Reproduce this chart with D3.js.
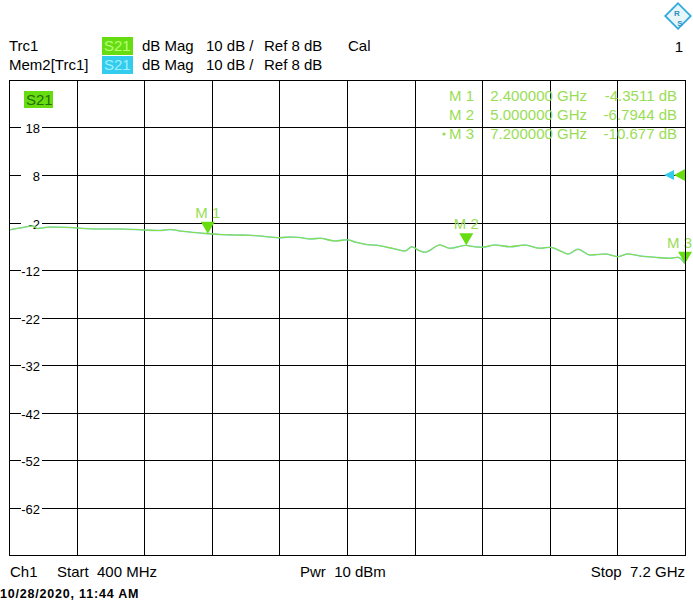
<!DOCTYPE html>
<html><head><meta charset="utf-8">
<script src="https://cdn.jsdelivr.net/npm/d3@7"></script>
<style>
html,body{margin:0;padding:0;background:#fff;}
svg{display:block;font-family:"Liberation Sans",Arial,sans-serif;}
svg text{white-space:pre;}
</style></head>
<body>
<svg id="chart" width="693" height="611"></svg>
<script>
// ---- data ----
const freqGHz = [0.400,0.511,0.641,0.682,0.812,1.014,1.084,1.315,1.517,1.758,1.919,2.020,2.120,2.271,2.400,2.522,2.673,2.824,2.975,3.116,3.227,3.327,3.428,3.528,3.679,3.800,3.880,3.981,4.132,4.283,4.383,4.454,4.514,4.585,4.735,4.836,5.000,5.037,5.158,5.289,5.440,5.591,5.742,5.842,5.963,6.023,6.124,6.244,6.395,6.526,6.626,6.747,6.898,7.049,7.129,7.200];
const s21dB = [-3.58,-3.16,-2.74,-3.26,-2.95,-3.05,-3.16,-3.37,-3.37,-3.58,-3.68,-3.47,-3.79,-4.11,-4.35,-4.53,-4.63,-4.69,-4.95,-5.20,-5.05,-5.16,-5.47,-5.33,-5.89,-5.62,-6.11,-6.59,-6.88,-7.58,-8.00,-7.09,-7.79,-8.27,-6.74,-7.43,-6.79,-6.95,-7.22,-6.74,-7.09,-6.74,-7.43,-7.22,-8.15,-8.63,-7.64,-8.84,-8.63,-9.20,-8.63,-9.05,-9.33,-9.54,-9.33,-10.68];
const memdB = s21dB.slice(); // memory trace overlaps the live trace
const yTickLabels = [18, 8, -2, -12, -22, -32, -42, -52, -62];
const markerNames = ["M 1", "M 2", "M 3"];
const markerFreqGHz = [2.4, 5.0, 7.2];
const markerValdB = [-4.3511, -6.7944, -10.677];
const markerFreqText = ["2.400000 GHz", "5.000000 GHz", "7.200000 GHz"];
const markerValText = ["-4.3511 dB", "-6.7944 dB", "-10.677 dB"];
const refLevel = 8;

// ---- layout ----
const svg = d3.select("#chart");
const L = 9, R = 685, T = 80, B = 555;
const x = d3.scaleLinear().domain([0.4, 7.2]).range([L, R]);
const y = d3.scaleLinear().domain([-72, 28]).range([B, T]);

const GREEN = "#66dd11", GREEN_TXT = "#99dd55", TRACE = "#8fdc3f", CYAN = "#33ccee";
const FS = 15;

// header
const hdr = svg.append("g").attr("font-size", FS).attr("fill", "#000");
hdr.append("text").attr("x", 9).attr("y", 51).text("Trc1");
hdr.append("text").attr("x", 9).attr("y", 70).text("Mem2[Trc1]");
hdr.append("rect").attr("x", 102).attr("y", 37).attr("width", 31).attr("height", 18).attr("fill", GREEN);
hdr.append("text").attr("x", 104).attr("y", 51).attr("fill", "#b8ff77").text("S21");
hdr.append("rect").attr("x", 102).attr("y", 56).attr("width", 31).attr("height", 18).attr("fill", CYAN);
hdr.append("text").attr("x", 104).attr("y", 70).attr("fill", "#9ff0ff").text("S21");
[[51, true], [70, false]].forEach(([yy, cal]) => {
  hdr.append("text").attr("x", 142).attr("y", yy).text("dB Mag");
  hdr.append("text").attr("x", 206).attr("y", yy).text("10 dB /");
  hdr.append("text").attr("x", 264).attr("y", yy).text("Ref 8 dB");
  if (cal) hdr.append("text").attr("x", 348).attr("y", yy).text("Cal");
});
hdr.append("text").attr("x", 683).attr("y", 52).attr("text-anchor", "end").text("1");

// logo
const logo = svg.append("g").attr("transform", "translate(678,16)");
logo.append("rect").attr("x", -9).attr("y", -9).attr("width", 18).attr("height", 18)
  .attr("transform", "rotate(45)").attr("fill", "#e6f6fb").attr("stroke", "#33aadd").attr("stroke-width", 1.8);
logo.append("text").attr("x", -1).attr("y", 0).attr("font-size", 8).attr("font-weight", "bold")
  .attr("fill", "#2a8fc0").attr("text-anchor", "middle").text("R");
logo.append("text").attr("x", 2).attr("y", 10).attr("font-size", 8).attr("font-weight", "bold")
  .attr("fill", "#2a8fc0").attr("text-anchor", "middle").text("S");

// grid
const grid = svg.append("g").attr("stroke", "#000").attr("stroke-width", 1).attr("shape-rendering", "crispEdges");
const xTicks = d3.range(11).map(i => 0.4 + i * 0.68);
const yTicks = d3.range(11).map(i => -72 + i * 10);
grid.selectAll("line.v").data(xTicks).join("line")
  .attr("x1", d => Math.round(x(d)) + 0.5).attr("x2", d => Math.round(x(d)) + 0.5)
  .attr("y1", T).attr("y2", B);
grid.selectAll("line.h").data(yTicks).join("line")
  .attr("y1", d => Math.round(y(d)) + 0.5).attr("y2", d => Math.round(y(d)) + 0.5)
  .attr("x1", L).attr("x2", R);

// y labels with white background
const yl = svg.append("g").attr("font-size", 13);
yTickLabels.forEach(v => {
  const yy = Math.round(y(v)) + 0.5;
  yl.append("rect").attr("x", 21).attr("y", yy - 7).attr("width", 21).attr("height", 13).attr("fill", "#fff");
  yl.append("text").attr("x", 40).attr("y", yy + 5).attr("text-anchor", "end").text(v);
});

// S21 label in plot
svg.append("rect").attr("x", 24).attr("y", 91).attr("width", 29).attr("height", 17).attr("fill", GREEN);
svg.append("text").attr("x", 26).attr("y", 105).attr("font-size", FS).attr("fill", "#2a6a00").text("S21");

// traces
const line = d3.line().x((d, i) => x(freqGHz[i])).y(d => y(d)).curve(d3.curveMonotoneX);
svg.append("clipPath").attr("id", "pc").append("rect")
  .attr("x", L).attr("y", T).attr("width", R - L + 1).attr("height", B - T);
const tg = svg.append("g").attr("clip-path", "url(#pc)");
tg.append("path").attr("d", line(memdB)).attr("fill", "none").attr("stroke", CYAN).attr("stroke-width", 1.6).attr("opacity", 0.7);
tg.append("path").attr("d", line(s21dB)).attr("fill", "none").attr("stroke", TRACE).attr("stroke-width", 1.1);

// markers
const mg = svg.append("g");
markerFreqGHz.forEach((f, i) => {
  const mx = x(f), my = y(markerValdB[i]);
  mg.append("path").attr("d", `M${mx},${my} L${mx - 7},${my - 12} L${mx + 7},${my - 12} Z`).attr("fill", GREEN);
  const nearEdge = mx > 670;
  mg.append("text").attr("x", nearEdge ? 692 : mx).attr("y", my - 16)
    .attr("text-anchor", nearEdge ? "end" : "middle")
    .attr("font-size", FS).attr("fill", GREEN_TXT).text(markerNames[i]);
});

// ref arrows
const ry = y(refLevel);
svg.append("path").attr("d", `M${R - 11},${ry} L${R},${ry - 6} L${R},${ry + 6} Z`).attr("fill", GREEN);
svg.append("path").attr("d", `M${R - 21},${ry} L${R - 11},${ry - 5} L${R - 11},${ry + 5} Z`).attr("fill", CYAN);

// marker table
const mt = svg.append("g").attr("font-size", FS).attr("fill", GREEN_TXT).attr("text-anchor", "end");
markerNames.forEach((n, i) => {
  const yy = 101 + i * 19;
  mt.append("text").attr("x", 474).attr("y", yy).text(n);
  mt.append("text").attr("x", 587).attr("y", yy).text(markerFreqText[i]);
  mt.append("text").attr("x", 677).attr("y", yy).text(markerValText[i]);
});
mt.append("circle").attr("cx", 444).attr("cy", 134).attr("r", 1.6).attr("fill", GREEN_TXT);

// border
svg.append("rect").attr("x", L + 0.5).attr("y", T + 0.5).attr("width", R - L).attr("height", B - T)
  .attr("fill", "none").attr("stroke", "#000").attr("shape-rendering", "crispEdges");

// footer
const ft = svg.append("g").attr("font-size", FS);
ft.append("text").attr("x", 10).attr("y", 577).text("Ch1");
ft.append("text").attr("x", 57).attr("y", 577).text("Start  400 MHz");
ft.append("text").attr("x", 300).attr("y", 577).text("Pwr  10 dBm");
ft.append("text").attr("x", 685).attr("y", 577).attr("text-anchor", "end").text("Stop  7.2 GHz");
svg.append("text").attr("x", 0).attr("y", 598).attr("font-size", 12.5).attr("font-weight", "bold")
  .attr("letter-spacing", 0.8).text("10/28/2020, 11:44 AM");
</script>
</body></html>
